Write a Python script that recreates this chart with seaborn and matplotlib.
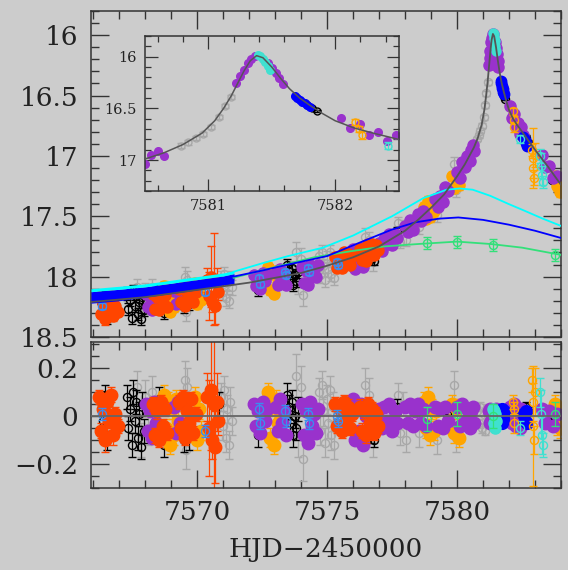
import matplotlib
matplotlib.use("Agg")
import matplotlib.pyplot as plt
import numpy as np
import pandas as pd
import seaborn as sns
from matplotlib.ticker import MultipleLocator, FuncFormatter

# ---------------- model curves ----------------
model_t = [7565.92, 7567.0, 7568.0, 7569.0, 7570.0, 7571.0, 7572.0, 7573.0, 7574.0, 7575.0,
           7576.0, 7577.0, 7578.0, 7578.5, 7579.0, 7579.5, 7580.0, 7580.3, 7580.5, 7580.65,
           7580.8, 7580.95, 7581.05, 7581.12, 7581.18, 7581.23, 7581.28, 7581.33, 7581.38,
           7581.43, 7581.5, 7581.57, 7581.64, 7581.72, 7581.8, 7581.9, 7582.0, 7582.15,
           7582.3, 7582.5, 7583.0, 7583.5, 7584.0]
model_mag = [18.21, 18.19, 18.17, 18.14, 18.11, 18.08, 18.05, 18.01, 17.97, 17.91,
             17.84, 17.75, 17.62, 17.53, 17.43, 17.32, 17.17, 17.07, 16.99, 16.93,
             16.85, 16.74, 16.62, 16.50, 16.38, 16.26, 16.14, 16.04, 15.99,
             16.01, 16.10, 16.21, 16.31, 16.40, 16.47, 16.55, 16.62, 16.69,
             16.74, 16.80, 16.95, 17.09, 17.24]

cyan_t = [7571.4, 7572.5, 7573.5, 7574.85, 7576.0, 7577.5, 7578.7, 7579.6, 7580.1, 7580.6,
          7581.27, 7582.0, 7582.55, 7583.3, 7584.0]
cyan_mag = [17.96, 17.89, 17.83, 17.76, 17.66, 17.50, 17.35, 17.28, 17.27, 17.28,
            17.33, 17.40, 17.45, 17.52, 17.58]

blue_line_t = [7571.4, 7572.5, 7573.5, 7575.0, 7576.35, 7577.5, 7578.4, 7579.3, 7580.05,
               7581.0, 7582.0, 7583.0, 7584.0]
blue_line_mag = [18.00, 17.95, 17.90, 17.83, 17.71, 17.61, 17.55, 17.52, 17.51,
                 17.53, 17.57, 17.62, 17.68]

green_line_t = [7571.4, 7573.0, 7574.5, 7575.9, 7577.2, 7578.5, 7580.0, 7581.3, 7582.5, 7584.0]
green_line_mag = [18.01, 17.92, 17.84, 17.79, 17.75, 17.73, 17.71, 17.73, 17.76, 17.82]

band_t = [7565.92, 7567.0, 7568.0, 7569.0, 7570.0, 7571.0, 7571.42]
band_top = [18.10, 18.08, 18.06, 18.03, 18.00, 17.97, 17.95]
band_mid = [18.125, 18.105, 18.085, 18.055, 18.025, 17.995, 17.975]
band_bot = [18.22, 18.20, 18.17, 18.14, 18.11, 18.07, 18.06]

# ---------------- data sets ----------------
gray_t = [7567.70, 7567.85, 7568.00, 7568.10, 7568.25,
          7569.52, 7569.58, 7569.62,
          7570.92, 7570.98, 7571.04, 7571.10, 7571.16, 7571.22, 7571.28, 7571.34,
          7573.80, 7573.90, 7574.00, 7574.08,
          7574.68, 7574.74, 7574.80, 7574.86, 7574.92, 7574.98, 7575.04, 7575.10, 7575.16, 7575.22, 7575.28,
          7576.45, 7576.60, 7576.75,
          7577.72, 7577.82, 7577.92, 7578.02,
          7578.55, 7579.22, 7579.90, 7579.95,
          7580.78, 7580.84, 7580.90, 7580.96, 7581.02, 7581.08, 7581.13, 7581.18]
gray_mag = [18.09, 18.31, 18.12, 18.24, 18.09,
            18.00, 18.29, 18.03,
            18.01, 18.13, 17.98, 18.18, 18.05, 18.20, 18.01, 18.09,
            17.80, 18.05, 17.85, 18.15,
            17.83, 17.99, 17.80, 17.91, 18.03, 17.85, 17.94, 17.80, 17.98, 17.86, 18.01,
            17.67, 17.70, 17.88,
            17.56, 17.71, 17.58, 17.70,
            17.59, 17.49, 17.07, 17.28,
            16.86, 16.83, 16.79, 16.75, 16.68, 16.58, 16.48, 16.39]
gray_res = [0.12, -0.10, 0.08, -0.05, 0.10,
            0.15, -0.14, 0.12,
            0.08, -0.04, 0.11, -0.09, 0.03, -0.12, 0.06, -0.02,
            0.17, -0.08, 0.12, -0.18,
            0.10, -0.06, 0.13, 0.02, -0.11, 0.07, -0.03, 0.11, -0.08, 0.04, -0.12,
            0.13, 0.09, -0.10,
            0.09, -0.07, 0.05, -0.10,
            -0.07, -0.10, 0.13, -0.09,
            0.02, -0.03, 0.04, -0.05, 0.01, -0.06, 0.03, -0.02]
gray_err = [0.07, 0.07, 0.07, 0.07, 0.07,
            0.08, 0.08, 0.08,
            0.06, 0.06, 0.06, 0.06, 0.06, 0.06, 0.06, 0.06,
            0.09, 0.09, 0.09, 0.09,
            0.06, 0.06, 0.06, 0.06, 0.06, 0.06, 0.06, 0.06, 0.06, 0.06, 0.06,
            0.07, 0.07, 0.07,
            0.05, 0.05, 0.05, 0.05,
            0.06, 0.06, 0.06, 0.06,
            0.02, 0.02, 0.02, 0.02, 0.02, 0.02, 0.02, 0.02]

black_t = [7566.32, 7566.40, 7566.47, 7566.55, 7566.62,
           7567.30, 7567.36, 7567.42, 7567.48, 7567.54, 7567.60, 7567.66, 7567.72, 7567.78, 7567.84, 7567.90, 7567.96,
           7568.55, 7568.74, 7569.50, 7569.69, 7570.85,
           7572.35,
           7573.45, 7573.52, 7573.58, 7573.64, 7573.70, 7573.76, 7573.82, 7573.88,
           7576.70, 7576.80, 7576.90,
           7577.68, 7579.55, 7579.62,
           7581.78, 7581.82, 7581.86,
           7582.65, 7582.72, 7583.65]
black_mag = [18.19, 18.27, 18.16, 18.35, 18.22,
             18.14, 18.27, 18.19, 18.34, 18.12, 18.24, 18.16, 18.31, 18.21, 18.35, 18.17, 18.28,
             18.12, 18.30, 18.25, 18.23, 18.05,
             18.11,
             17.90, 17.95, 18.02, 17.93, 18.07, 17.99, 18.04, 17.96,
             17.85, 17.87, 17.75,
             17.62, 17.28, 17.28,
             16.47, 16.50, 16.53,
             16.85, 16.89, 17.20]
black_res = [0.06, -0.02, 0.09, -0.10, 0.03,
             0.08, -0.05, 0.03, -0.12, 0.10, -0.02, 0.06, -0.09, 0.01, -0.13, 0.05, -0.06,
             0.07, -0.12, -0.10, -0.09, 0.05,
             -0.08,
             0.09, 0.04, -0.03, 0.06, -0.08, 0.00, -0.05, 0.03,
             -0.08, -0.10, 0.02,
             0.04, 0.03, 0.01,
             0.01, -0.01, 0.00,
             0.04, 0.02, 0.01]
black_err = [0.04, 0.04, 0.04, 0.04, 0.04,
             0.05, 0.05, 0.05, 0.05, 0.05, 0.05, 0.05, 0.05, 0.05, 0.05, 0.05, 0.05,
             0.05, 0.05, 0.05, 0.05, 0.05,
             0.05,
             0.05, 0.05, 0.05, 0.05, 0.05, 0.05, 0.05, 0.05,
             0.03, 0.03, 0.03,
             0.03, 0.02, 0.02,
             0.01, 0.01, 0.01,
             0.02, 0.02, 0.02]

purple_t = [7568.02, 7568.10, 7568.18, 7568.26, 7568.34, 7568.42,
            7569.12, 7569.20, 7569.28, 7569.36,
            7572.20, 7572.28, 7572.36, 7572.44, 7572.52, 7572.60, 7572.68,
            7573.02, 7573.10, 7573.18, 7573.26, 7573.34, 7573.42,
            7574.02, 7574.10, 7574.18, 7574.26, 7574.34, 7574.42, 7574.50, 7574.58, 7574.64,
            7576.00, 7576.08, 7576.16, 7576.24, 7576.32, 7576.40, 7576.48,
            7577.0, 7577.1, 7577.2, 7577.3, 7577.4, 7577.5, 7577.6, 7577.7,
            7578.0, 7578.1, 7578.2, 7578.3, 7578.4, 7578.5, 7578.6, 7578.7, 7578.8,
            7579.15, 7579.25, 7579.35, 7579.45, 7579.55, 7579.65,
            7580.0, 7580.1, 7580.2, 7580.3, 7580.4, 7580.5, 7580.55, 7580.6, 7580.65,
            7581.22, 7581.25, 7581.28, 7581.31, 7581.34, 7581.37, 7581.47, 7581.50, 7581.53, 7581.56, 7581.59,
            7582.05, 7582.12, 7582.20, 7582.27, 7582.34, 7582.41, 7582.48, 7582.55,
            7583.25, 7583.40, 7583.55, 7583.70, 7583.85]
purple_mag = [18.14, 18.25, 18.17, 18.28, 18.13, 18.22,
              18.12, 18.23, 18.10, 18.19,
              17.99, 18.08, 18.02, 18.10, 17.97, 18.04, 17.99,
              17.97, 18.07, 17.94, 18.03, 17.97, 18.07,
              17.92, 18.05, 17.95, 18.07, 17.90, 17.99, 17.94, 18.00, 17.90,
              17.77, 17.94, 17.80, 17.88, 17.76, 17.92, 17.80,
              17.72, 17.79, 17.69, 17.73, 17.65, 17.74, 17.65, 17.68,
              17.58, 17.63, 17.53, 17.61, 17.53, 17.48, 17.54, 17.46, 17.51,
              17.36, 17.42, 17.33, 17.38, 17.26, 17.29,
              17.13, 17.18, 17.05, 17.09, 17.00, 17.04, 16.95, 16.91, 16.96,
              16.25, 16.19, 16.13, 16.06, 16.02, 15.99, 16.06, 16.11, 16.16, 16.21, 16.26,
              16.59, 16.69, 16.65, 16.76, 16.73, 16.82, 16.76, 16.83,
              16.99, 17.09, 17.08, 17.18, 17.17]
purple_res = [0.05, -0.06, 0.02, -0.09, 0.06, -0.03,
              0.04, -0.07, 0.06, -0.03,
              0.05, -0.04, 0.02, -0.07, 0.06, -0.02, 0.03,
              0.04, -0.06, 0.07, -0.03, 0.02, -0.08,
              0.05, -0.08, 0.02, -0.11, 0.06, -0.04, 0.01, -0.07, 0.03,
              0.07, -0.10, 0.03, -0.06, 0.05, -0.12, 0.00,
              0.03, -0.05, 0.04, -0.02, 0.05, -0.06, 0.02, -0.03,
              0.04, -0.03, 0.05, -0.04, 0.02, 0.05, -0.03, 0.03, -0.04,
              0.04, -0.04, 0.03, -0.05, 0.04, -0.02,
              0.04, -0.04, 0.05, -0.02, 0.03, -0.05, 0.02, 0.04, -0.03,
              0.02, -0.03, 0.03, -0.02, 0.01, 0.02, -0.02, 0.03, -0.03, 0.01, -0.01,
              0.04, -0.03, 0.05, -0.04, 0.02, -0.05, 0.03, -0.02,
              0.03, -0.03, 0.02, -0.04, 0.01]

red_t = [7566.22, 7566.30, 7566.38, 7566.46, 7566.54, 7566.62, 7566.70, 7566.78, 7566.86, 7566.94,
         7568.30, 7568.38, 7568.46, 7568.54, 7568.62, 7568.70, 7568.78, 7568.86,
         7569.30, 7569.38, 7569.46, 7569.54, 7569.62, 7569.70, 7569.78, 7569.86, 7569.94,
         7570.40, 7570.46, 7570.52, 7570.58, 7570.64, 7570.70, 7570.76, 7570.82,
         7575.32, 7575.40, 7575.48, 7575.56, 7575.64, 7575.72, 7575.80, 7575.88, 7575.96,
         7576.25, 7576.33, 7576.41, 7576.49, 7576.57, 7576.65, 7576.73, 7576.81, 7576.89, 7576.97]
red_mag = [18.17, 18.31, 18.22, 18.35, 18.19, 18.27, 18.16, 18.33, 18.24, 18.29,
           18.14, 18.27, 18.17, 18.28, 18.12, 18.22, 18.15, 18.25,
           18.10, 18.21, 18.08, 18.24, 18.13, 18.17, 18.07, 18.21, 18.13,
           18.03, 18.16, 18.00, 18.21, 18.02, 18.24, 18.05, 18.13,
           17.84, 17.93, 17.85, 17.93, 17.80, 17.88, 17.81, 17.90, 17.83,
           17.77, 17.86, 17.77, 17.87, 17.73, 17.80, 17.73, 17.82, 17.74, 17.78]
red_res = [0.08, -0.06, 0.03, -0.10, 0.06, -0.02, 0.09, -0.08, 0.01, -0.04,
           0.05, -0.08, 0.02, -0.10, 0.06, -0.04, 0.03, -0.07,
           0.06, -0.05, 0.08, -0.09, 0.02, -0.03, 0.07, -0.07, 0.01,
           0.08, -0.05, 0.11, -0.10, 0.05, -0.13, 0.06, -0.02,
           0.05, -0.04, 0.03, -0.06, 0.06, -0.02, 0.04, -0.05, 0.01,
           0.04, -0.06, 0.02, -0.08, 0.05, -0.03, 0.03, -0.07, 0.01, -0.04]
red_err = [0.03, 0.03, 0.03, 0.05, 0.03, 0.03, 0.03, 0.04, 0.03, 0.03,
           0.03, 0.03, 0.03, 0.03, 0.03, 0.03, 0.03, 0.03,
           0.03, 0.03, 0.03, 0.03, 0.03, 0.03, 0.03, 0.03, 0.03,
           0.10, 0.20, 0.25, 0.08, 0.38, 0.15, 0.12, 0.06,
           0.03, 0.03, 0.03, 0.03, 0.03, 0.03, 0.03, 0.03, 0.03,
           0.03, 0.03, 0.03, 0.03, 0.03, 0.03, 0.03, 0.03, 0.03, 0.03]

orange_t = [7568.72, 7568.80, 7568.88, 7568.96, 7569.04, 7569.12, 7569.20, 7569.28,
            7569.92, 7570.00, 7570.08, 7570.16,
            7572.72, 7572.80, 7572.88, 7572.96, 7573.04, 7573.12, 7573.20,
            7578.72, 7578.80, 7578.88, 7578.96, 7579.04, 7579.12, 7579.20,
            7579.82, 7579.90, 7579.98, 7580.06,
            7583.78, 7583.85, 7583.92, 7583.98]
orange_mag = [18.08, 18.22, 18.11, 18.29, 18.14, 18.25, 18.10, 18.19,
              18.05, 18.23, 18.10, 18.19,
              17.92, 18.11, 17.98, 18.14, 17.95, 18.05, 18.01,
              17.42, 17.52, 17.37, 17.51, 17.38, 17.46, 17.36,
              17.17, 17.27, 17.14, 17.24,
              17.17, 17.25, 17.23, 17.30]
orange_res = [0.09, -0.05, 0.06, -0.12, 0.03, -0.08, 0.07, -0.02,
              0.08, -0.10, 0.03, -0.06,
              0.10, -0.09, 0.04, -0.12, 0.07, -0.03, 0.01,
              0.06, -0.05, 0.08, -0.08, 0.03, -0.06, 0.02,
              0.05, -0.07, 0.03, -0.09,
              0.05, -0.04, 0.02, -0.05]
orange_err = [0.04, 0.04, 0.04, 0.04, 0.04, 0.04, 0.04, 0.04,
              0.04, 0.04, 0.04, 0.04,
              0.04, 0.04, 0.04, 0.04, 0.04, 0.04, 0.04,
              0.04, 0.04, 0.04, 0.04, 0.04, 0.04, 0.04,
              0.04, 0.04, 0.04, 0.04,
              0.04, 0.04, 0.04, 0.04]

orange2_t = [7582.16, 7582.19, 7582.21, 7582.88, 7582.91, 7582.94, 7582.97, 7583.00]
orange2_mag = [16.63, 16.70, 16.76, 16.95, 17.10, 17.02, 17.18, 16.99]
orange2_res = [0.06, 0.03, -0.03, 0.15, 0.06, -0.04, -0.10, 0.10]
orange2_err = [0.03, 0.03, 0.04, 0.05, 0.08, 0.25, 0.06, 0.10]

blue_t = [7581.68, 7581.70, 7581.72, 7581.74, 7581.76, 7581.78, 7581.80,
          7582.55, 7582.60, 7582.65, 7582.70]
blue_mag = [16.38, 16.40, 16.42, 16.44, 16.45, 16.47, 16.49,
            16.84, 16.87, 16.89, 16.92]
blue_res = [0.02, -0.02, 0.03, -0.03, 0.01, -0.01, 0.02,
            0.01, -0.02, 0.02, -0.03]

turqpk_t = [7581.39, 7581.41, 7581.43, 7581.45, 7581.47, 7581.49]
turqpk_mag = [15.98, 15.99, 16.02, 16.05, 16.09, 16.13]
turqpk_res = [0.03, -0.03, 0.02, -0.05, 0.01, -0.02]

turq_t = [7582.42, 7583.20, 7583.24, 7583.28, 7583.32]
turq_mag = [16.86, 17.00, 17.08, 17.16, 17.22]
turq_res = [-0.05, 0.10, 0.01, -0.08, -0.12]
turq_err = [0.03, 0.06, 0.10, 0.08, 0.05]

dodger_t = [7566.35, 7570.30, 7572.38, 7572.42, 7573.38, 7573.42, 7574.28, 7574.32, 7575.38, 7575.42]
dodger_mag = [18.24, 18.13, 18.01, 18.06, 17.96, 17.99, 17.93, 17.96, 17.88, 17.90]
dodger_res = [0.01, -0.06, 0.03, -0.03, 0.02, -0.02, 0.01, -0.03, 0.00, -0.02]
dodger_err = [0.025, 0.025, 0.025, 0.025, 0.025, 0.025, 0.025, 0.025, 0.025, 0.025]

green_t = [7578.85, 7580.00, 7581.40, 7583.75]
green_mag = [17.72, 17.71, 17.74, 17.82]
green_res = [-0.01, 0.01, 0.00, 0.01]
green_err = [0.05, 0.05, 0.05, 0.05]

main_yticks = [16, 16.5, 17, 17.5, 18, 18.5]
res_yticks = [-0.2, 0, 0.2]
main_xticks = [7570, 7575, 7580]
inset_xticks = [7581, 7582]
inset_yticks = [16, 16.5, 17]

# ---------------- style ----------------
sns.set_theme(style="ticks")
plt.rcParams["font.family"] = ["DejaVu Serif"]
plt.rcParams["axes.unicode_minus"] = True
BG = "#cccccc"
SP = "#333333"

fig = plt.figure(figsize=(5.68, 5.70), dpi=100, facecolor=BG)
ax = fig.add_axes([0.1602, 0.4088, 0.8275, 0.5719])
axr = fig.add_axes([0.1602, 0.1439, 0.8275, 0.2561])
axi = fig.add_axes([0.2553, 0.6649, 0.4463, 0.2719])
axi.set_zorder(5)

for a in (ax, axr, axi):
    a.set_facecolor(BG)
    for s in a.spines.values():
        s.set_color(SP)
        s.set_linewidth(1.1)
    a.grid(False)


def draw(t, m, r, e, col, filled, ms, zo, ms_res=None, ms_in=5.0):
    base = dict(fmt="o", mec=col, mew=1.0, ecolor=col, elinewidth=0.9,
                capsize=2.8, capthick=0.9, zorder=zo, ls="none")
    mfc = col if filled else "none"
    ax.errorbar(t, m, yerr=e, ms=ms, mfc=mfc, **base)
    axr.errorbar(t, r, yerr=e, ms=ms_res or ms, mfc=mfc, **base)
    axi.errorbar(t, m, yerr=e, ms=ms_in, mfc=mfc, **base)


draw(gray_t, gray_mag, gray_res, gray_err, "#a8a8a8", False, 5.8, 2.0)
draw(black_t, black_mag, black_res, black_err, "#000000", False, 5.8, 2.2)
draw(orange_t, orange_mag, orange_res, orange_err, "#ffa500", True, 8.0, 2.3, 9.0, 5.5)
draw(purple_t, purple_mag, purple_res, None, "#9932cc", True, 8.0, 2.4, 9.0, 5.5)
draw(red_t, red_mag, red_res, red_err, "#ff4500", True, 8.0, 2.5, 9.0, 5.5)
draw(blue_t, blue_mag, blue_res, None, "#0000ff", True, 7.5, 2.6, 8.5, 5.5)
draw(turqpk_t, turqpk_mag, turqpk_res, None, "#40e0d0", True, 6.5, 2.7, 8.0, 5.5)
draw(orange2_t, orange2_mag, orange2_res, orange2_err, "#ffa500", False, 5.8, 2.7)
draw(turq_t, turq_mag, turq_res, turq_err, "#40e0d0", False, 5.8, 2.8)
draw(dodger_t, dodger_mag, dodger_res, dodger_err, "#3a8cf0", False, 5.8, 2.9)
draw(green_t, green_mag, green_res, green_err, "#33e07a", False, 5.8, 3.0)

# band and model lines
ax.fill_between(band_t, band_mid, band_bot, color="#0000ff", lw=0, zorder=4)
ax.fill_between(band_t, band_top, band_mid, color="#00ffff", lw=0, zorder=4)

sns.lineplot(x=green_line_t, y=green_line_mag, ax=ax, color="#33e07a", lw=1.3, zorder=5, estimator=None)
sns.lineplot(x=blue_line_t, y=blue_line_mag, ax=ax, color="#0000ff", lw=1.3, zorder=5, estimator=None)
sns.lineplot(x=cyan_t, y=cyan_mag, ax=ax, color="#00ffff", lw=1.3, zorder=5, estimator=None)
sns.lineplot(x=model_t, y=model_mag, ax=ax, color="#555555", lw=1.3, zorder=6, estimator=None)
sns.lineplot(x=model_t, y=model_mag, ax=axi, color="#555555", lw=1.1, zorder=6, estimator=None)
axr.axhline(0, color="#666666", lw=1.3, zorder=6)

# limits
ax.set_xlim(7565.92, 7584.0)
axr.set_xlim(7565.92, 7584.0)
ax.set_ylim(18.5, 15.8)
axr.set_ylim(-0.30, 0.31)
axi.set_xlim(7580.5, 7582.5)
axi.set_ylim(17.3, 15.8)

fmt = FuncFormatter(lambda v, p: f"{v:g}".replace("-", "\u2212"))

ax.set_xticks(main_xticks)
ax.xaxis.set_minor_locator(MultipleLocator(1))
ax.set_yticks(main_yticks)
ax.yaxis.set_minor_locator(MultipleLocator(0.1))
ax.yaxis.set_major_formatter(fmt)

axr.set_xticks(main_xticks)
axr.xaxis.set_minor_locator(MultipleLocator(1))
axr.set_yticks(res_yticks)
axr.yaxis.set_minor_locator(MultipleLocator(0.05))
axr.yaxis.set_major_formatter(fmt)

axi.set_xticks(inset_xticks)
axi.xaxis.set_minor_locator(MultipleLocator(0.2))
axi.set_yticks(inset_yticks)
axi.yaxis.set_minor_locator(MultipleLocator(0.1))
axi.yaxis.set_major_formatter(fmt)

for a in (ax, axr):
    a.tick_params(which="both", direction="in", top=True, right=True, color=SP, width=1.0)
    a.tick_params(which="major", length=13, labelsize=19, pad=9, labelcolor="#222222")
    a.tick_params(which="minor", length=6)
ax.tick_params(labelbottom=False)
axi.tick_params(which="both", direction="in", top=True, right=True, color=SP, width=0.9)
axi.tick_params(which="major", length=9, labelsize=10.5, pad=6, labelcolor="#222222")
axi.tick_params(which="minor", length=4.5)

for a in (ax, axr, axi):
    a.set_xlabel("")
    a.set_ylabel("")
axr.set_xlabel("HJD\u22122450000", fontsize=19, color="#222222", labelpad=8)

fig.savefig("out.png", dpi=100, facecolor=BG)
